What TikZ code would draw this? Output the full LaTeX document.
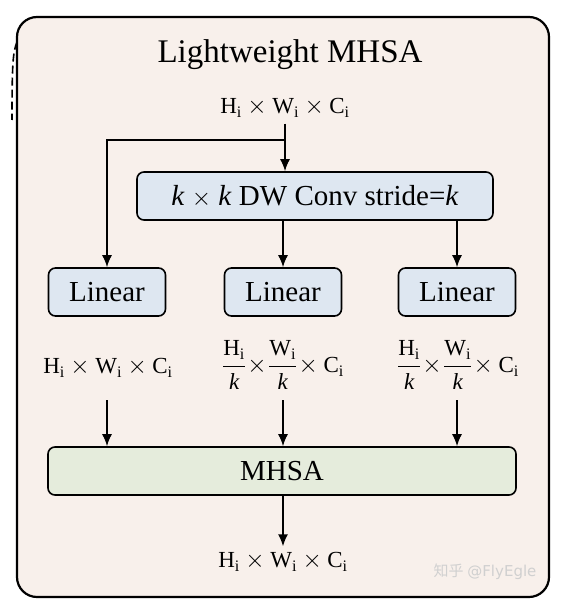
\documentclass[tikz,border=0pt]{standalone}
\usepackage{fontspec}
\usepackage{amsmath}
\setmainfont{Liberation Serif}
\newfontfamily\cjkfont{Noto Sans CJK SC}
\usetikzlibrary{arrows.meta}
\definecolor{framefill}{HTML}{F8F0EB}
\definecolor{bluefill}{HTML}{DEE7F1}
\definecolor{greenfill}{HTML}{E5ECDC}
\definecolor{wmgray}{HTML}{D0D0D0}
\tikzset{
  box/.style={draw=black, line width=1.6pt, rounded corners=7pt, inner sep=0pt, font=\fontsize{29}{33}\selectfont},
  dim/.style={inner sep=0pt, font=\fontsize{23}{27}\selectfont},
  arr/.style={line width=1.6pt, -{Latex[length=12pt,width=10pt]}},
}
\newcommand{\dimtxt}{$\text{H}_{\text{i}}\times\text{W}_{\text{i}}\times\text{C}_{\text{i}}$}
\newcommand{\fractxt}{$\dfrac{\text{H}_{\text{i}}}{\textit{k}}\!\times\!\dfrac{\text{W}_{\text{i}}}{\textit{k}}\!\times \text{C}_{\text{i}}$}
\begin{document}
\begin{tikzpicture}[x=1pt,y=-1pt]
\useasboundingbox (0,0) rectangle (565,607);
% outer frame
\node[draw=black, line width=2.2pt, fill=framefill, rounded corners=20pt, minimum width=532pt, minimum height=580pt, inner sep=0pt] (frame) at (283,307) {};
% dashed fragment at left
\draw[line width=1.6pt, dash pattern=on 8pt off 4pt] (17,42) .. controls (13,52) and (12,62) .. (12,120);
% title
\node[font=\fontsize{33}{37}\selectfont, inner sep=0pt] (title) at (290,55) {Lightweight MHSA};
\node[dim] (in) at (285,108) {\dimtxt};
\node[box, fill=bluefill, minimum width=356pt, minimum height=48pt] (dw) at (315,196) {\textit{k} $\times$ \textit{k} DW Conv stride=\textit{k}};
\node[box, fill=bluefill, minimum width=117pt, minimum height=48pt] (lin1) at (107,292) {Linear};
\node[box, fill=bluefill, minimum width=117pt, minimum height=48pt] (lin2) at (283,292) {Linear};
\node[box, fill=bluefill, minimum width=117pt, minimum height=48pt] (lin3) at (457,292) {Linear};
\node[dim] (d1) at (108,368) {\dimtxt};
\node[dim] (d2) at (283,365) {\fractxt};
\node[dim] (d3) at (458,365) {\fractxt};
\node[box, fill=greenfill, minimum width=468pt, minimum height=48pt] (mhsa) at (282,471) {MHSA};
\node[dim] (out) at (283,562) {\dimtxt};
\node[font=\fontsize{15}{18}\selectfont, text=wmgray, inner sep=0pt] (wm) at (485,572) {{\cjkfont 知乎} \fontspec{DejaVu Sans}@FlyEgle};
% connectors
\coordinate (br) at (285,140);
\draw[arr] ([yshift=-6pt]in.south) -- (in.south |- dw.north);
\draw[arr] (br) -| (lin1.north);
\draw[arr] (lin2.north |- dw.south) -- (lin2.north);
\draw[arr] (lin3.north |- dw.south) -- (lin3.north);
\draw[arr] (lin1.south |- 0,400) -- (lin1.south |- mhsa.north);
\draw[arr] (lin2.south |- 0,400) -- (lin2.south |- mhsa.north);
\draw[arr] (lin3.south |- 0,400) -- (lin3.south |- mhsa.north);
\draw[arr] (lin2.south |- mhsa.south) -- ([yshift=6pt]lin2.south |- out.north);
\end{tikzpicture}
\end{document}
